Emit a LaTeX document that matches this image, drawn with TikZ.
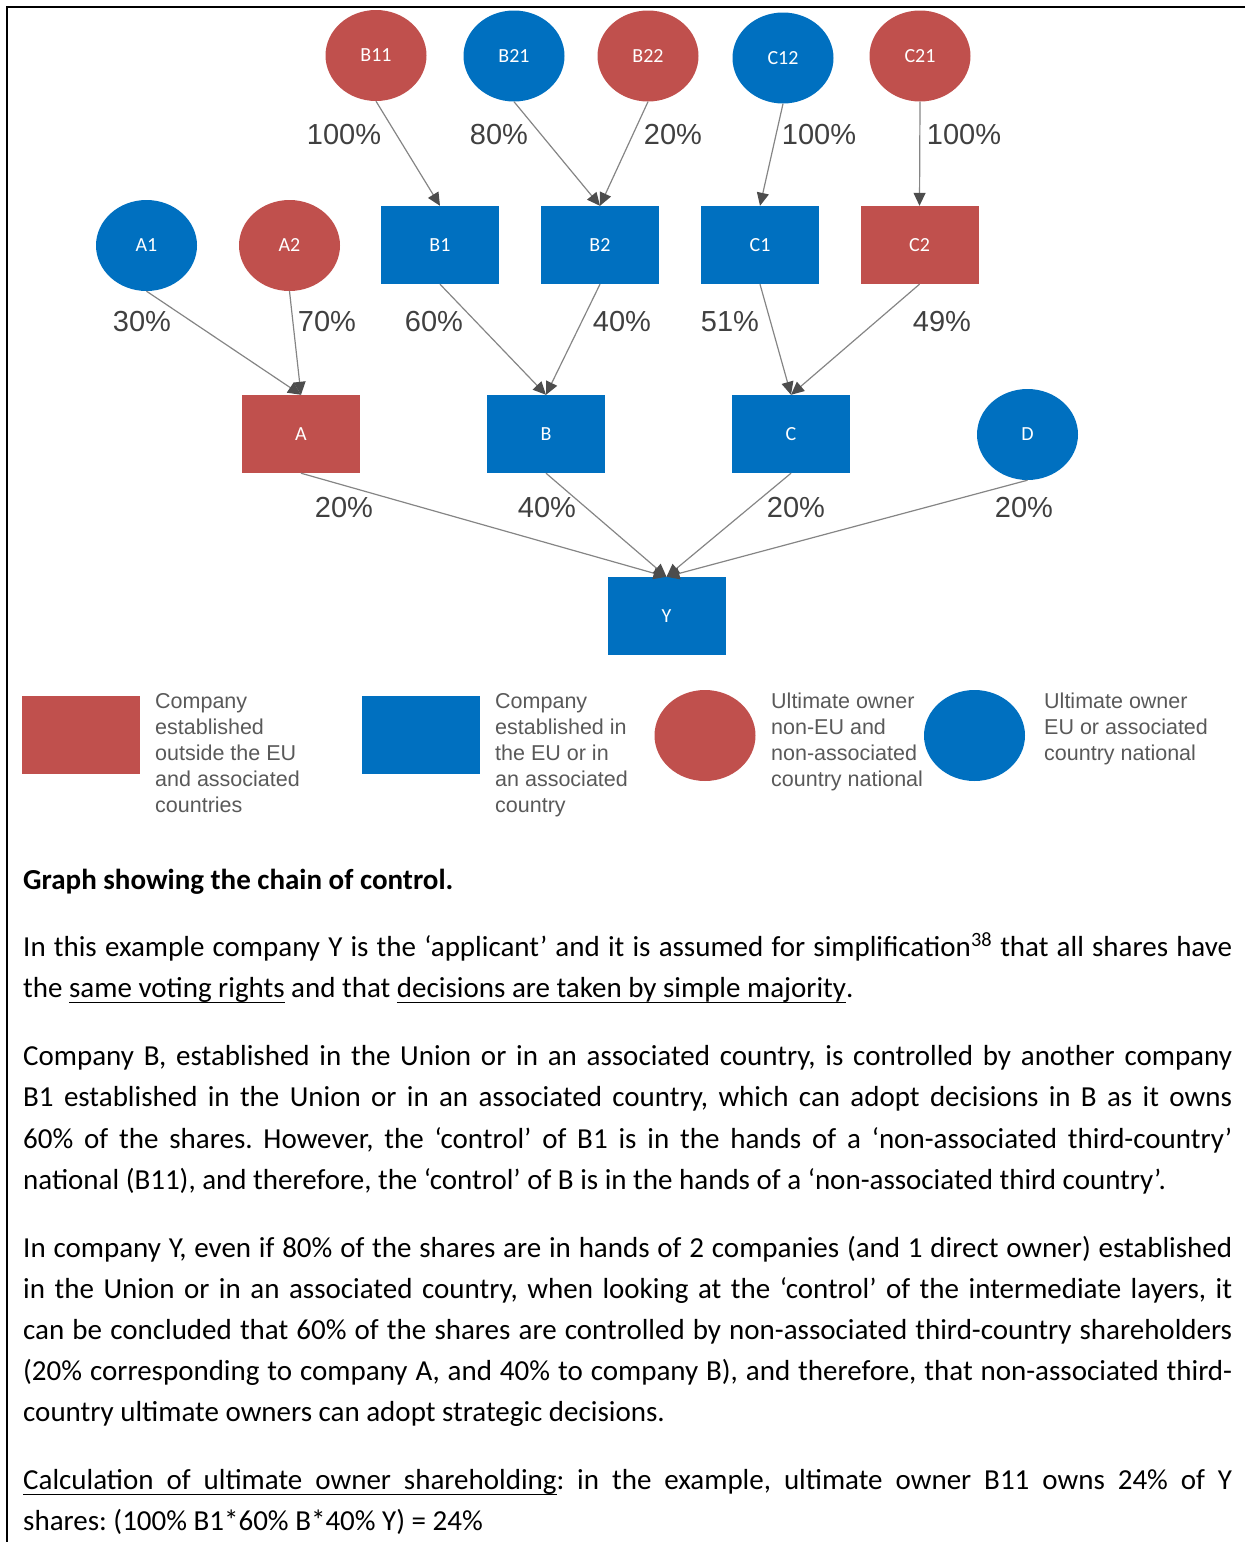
\documentclass[tikz,border=0pt]{standalone}
\usepackage{fontspec}
\setmainfont{Carlito}
\newfontfamily\arialf{Liberation Sans}
\usetikzlibrary{shapes.geometric,arrows.meta}
\definecolor{cred}{HTML}{C0504D}
\definecolor{cblue}{HTML}{0070C0}
\definecolor{pctgray}{HTML}{404040}
\definecolor{leggray}{HTML}{595959}
\definecolor{linegray}{HTML}{858585}
\definecolor{tipgray}{HTML}{4D4D4D}
\frenchspacing
\newcommand{\jline}[1]{\hbox to 1209pt{#1}}
\newcommand{\ulw}[1]{\setbox0\hbox{#1}\rlap{\rule[-6.3pt]{\wd0}{1.6pt}}\box0\relax}
\newcommand{\ulsp}{\leaders\hrule height -4.7pt depth 6.3pt\hskip\fontdimen2\font plus \fontdimen3\font minus \fontdimen4\font\relax}
\begin{document}
\begin{tikzpicture}[x=1pt,y=-1pt,
  own/.style={ellipse, minimum width=101pt, minimum height=91pt, inner sep=0pt, text=white, font=\fontsize{20}{24}\selectfont},
  comp/.style={rectangle, minimum width=118pt, minimum height=78pt, inner sep=0pt, text=white, font=\fontsize{20}{24}\selectfont},
  redf/.style={fill=cred}, bluef/.style={fill=cblue},
  pct/.style={font=\arialf\fontsize{29}{34}\selectfont, text=pctgray, inner sep=0pt},
  link/.style={draw=linegray, line width=1.2pt, -{Triangle[length=13pt,width=12pt,color=tipgray]}},
  legtext/.style={font=\arialf\fontsize{21.5}{26}\selectfont, text=leggray, anchor=base west, inner sep=0pt},
  body/.style={font=\fontsize{29}{41}\selectfont, anchor=base west, inner sep=0pt},
]
\useasboundingbox (0,0) rectangle (1245,1542);
\draw[line width=2pt] (1245,6.5) -- (7,6.5) -- (7,1542);

% ultimate owners top row
\node[own,redf]  (B11) at (376,55.5) {B11};
\node[own,bluef] (B21) at (514,56) {B21};
\node[own,redf]  (B22) at (648,56) {B22};
\node[own,bluef] (C12) at (783,58) {C12};
\node[own,redf]  (C21) at (920,56) {C21};

% second row
\node[own,bluef] (A1) at (146.5,245.5) {A1};
\node[own,redf]  (A2) at (289.5,245.5) {A2};
\node[comp,bluef] (B1) at (440,245) {B1};
\node[comp,bluef] (B2) at (600,245) {B2};
\node[comp,bluef] (C1) at (760,245) {C1};
\node[comp,redf]  (C2) at (919.5,245) {C2};

% third row
\node[comp,redf]  (A) at (301,434) {A};
\node[comp,bluef] (B) at (546,434) {B};
\node[comp,bluef] (C) at (791,434) {C};
\node[own,bluef]  (D) at (1027.5,434.5) {D};

% applicant
\node[comp,bluef] (Y) at (666.5,616) {Y};

% connectors
\draw[link] (B11.south) -- (B1.north);
\draw[link] (B21.south) -- (B2.north);
\draw[link] (B22.south) -- (B2.north);
\draw[link] (C12.south) -- (C1.north);
\draw[link] (C21.south) -- (C2.north);
\draw[link] (A1.south) -- (A.north);
\draw[link] (A2.south) -- (A.north);
\draw[link] (B1.south) -- (B.north);
\draw[link] (B2.south) -- (B.north);
\draw[link] (C1.south) -- (C.north);
\draw[link] (C2.south) -- (C.north);
\draw[link] (A.south) -- (Y.north);
\draw[link] (B.south) -- (Y.north);
\draw[link] (C.south) -- (Y.north);
\draw[link] (D.south) -- (Y.north);

% percentages
\node[pct] (p1) at (344,134.5) {100\%};
\node[pct] (p2) at (499,134.5) {80\%};
\node[pct] (p3) at (673,134.5) {20\%};
\node[pct] (p4) at (819,134.5) {100\%};
\node[pct] (p5) at (964,134.5) {100\%};
\node[pct] (p6) at (142,322) {30\%};
\node[pct] (p7) at (327,322) {70\%};
\node[pct] (p8) at (434,322) {60\%};
\node[pct] (p9) at (622,322) {40\%};
\node[pct] (p10) at (730,322) {51\%};
\node[pct] (p11) at (942,322) {49\%};
\node[pct] (p12) at (344,508) {20\%};
\node[pct] (p13) at (547,508) {40\%};
\node[pct] (p14) at (796,508) {20\%};
\node[pct] (p15) at (1024,508) {20\%};

% legend
\node[comp,redf]  (LR) at (81,735) {};
\node[comp,bluef] (LB) at (421,735) {};
\node[own,redf]   (LO) at (705,735.5) {};
\node[own,bluef]  (LE) at (974.5,735.5) {};
\foreach \t [count=\i] in {Company, established, outside the EU, and associated, countries}
  \node[legtext] (la\i) at (155,{708+26*(\i-1)}) {\t};
\foreach \t [count=\i] in {Company, established in, the EU or in, an associated, country}
  \node[legtext] (lb\i) at (495,{708+26*(\i-1)}) {\t};
\foreach \t [count=\i] in {Ultimate owner, non-EU and, non-associated, country national}
  \node[legtext] (lc\i) at (771,{708+26*(\i-1)}) {\t};
\foreach \t [count=\i] in {Ultimate owner, EU or associated, country national}
  \node[legtext] (ld\i) at (1044,{708+26*(\i-1)}) {\t};

% body text
\node[body] (h) at (23,889) {\bfseries Graph showing the chain of control.};
\node[body] (t1) at (23,956) {\jline{In this example company Y is the ‘applicant’ and it is assumed for simplification\textsuperscript{38} that all shares have}};
\node[body] (t2) at (23,997) {the \ulw{same}\ulsp\ulw{voting}\ulsp\ulw{rights} and that \ulw{decisions}\ulsp\ulw{are}\ulsp\ulw{taken}\ulsp\ulw{by}\ulsp\ulw{simple}\ulsp\ulw{majority}.};
\node[body] (t3) at (23,1065) {\jline{Company B, established in the Union or in an associated country, is controlled by another company}};
\node[body] (t4) at (23,1106) {\jline{B1 established in the Union or in an associated country, which can adopt decisions in B as it owns}};
\node[body] (t5) at (23,1148) {\jline{60\% of the shares. However, the ‘control’ of B1 is in the hands of a ‘non-associated third-country’}};
\node[body] (t6) at (23,1189) {national (B11), and therefore, the ‘control’ of B is in the hands of a ‘non-associated third country’.};
\node[body] (t7) at (23,1257) {\jline{In company Y, even if 80\% of the shares are in hands of 2 companies (and 1 direct owner) established}};
\node[body] (t8) at (23,1298) {\jline{in the Union or in an associated country, when looking at the ‘control’ of the intermediate layers, it}};
\node[body] (t9) at (23,1339) {\jline{can be concluded that 60\% of the shares are controlled by non-associated third-country shareholders}};
\node[body] (t10) at (23,1380) {\jline{(20\% corresponding to company A, and 40\% to company B), and therefore, that non-associated third-}};
\node[body] (t11) at (23,1421) {country ultimate owners can adopt strategic decisions.};
\node[body] (t12) at (23,1489) {\jline{\ulw{Calculation}\ulsp\ulw{of}\ulsp\ulw{ultimate}\ulsp\ulw{owner}\ulsp\ulw{shareholding}: in the example, ultimate owner B11 owns 24\% of Y}};
\node[body] (t13) at (23,1530) {shares: (100\% B1*60\% B*40\% Y) = 24\%};
\end{tikzpicture}
\end{document}
